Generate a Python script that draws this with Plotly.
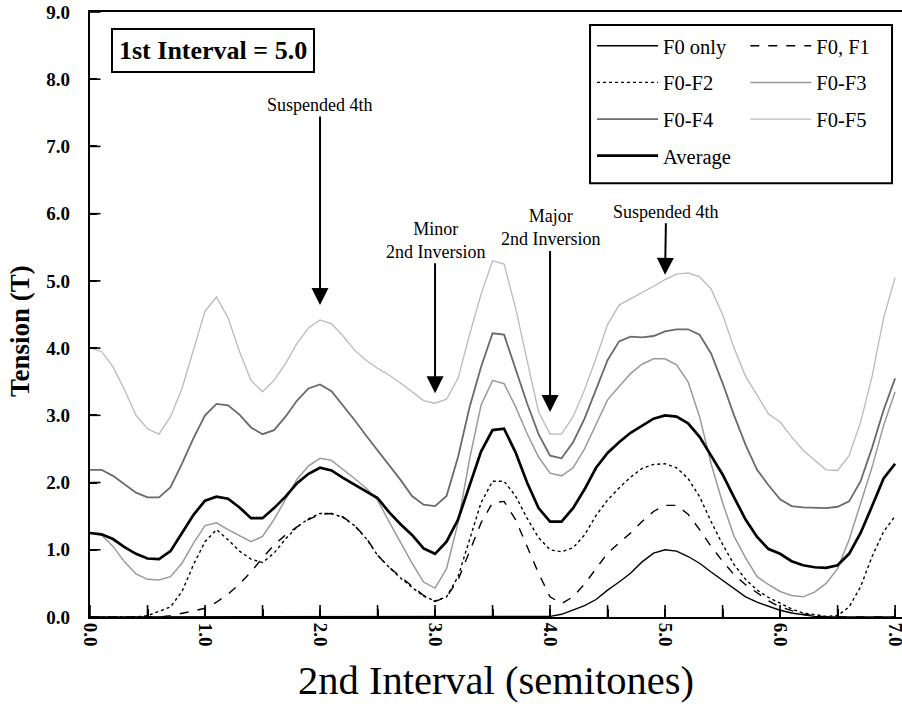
import plotly.graph_objects as go

# 2nd interval grid (semitones)
semitones = [round(i * 0.1, 1) for i in range(71)]

f0_only = [0, 0, 0, 0, 0, 0, 0, 0, 0, 0,
           0, 0, 0, 0, 0, 0, 0, 0, 0, 0,
           0, 0, 0, 0, 0, 0, 0, 0, 0, 0,
           0, 0, 0, 0, 0, 0, 0, 0, 0, 0,
           0.01, 0.04, 0.10, 0.17, 0.26, 0.40, 0.52, 0.65, 0.82, 0.95,
           1.00, 0.98, 0.90, 0.80, 0.67, 0.55, 0.42, 0.30, 0.22, 0.16,
           0.10, 0.06, 0.03, 0.01, 0, 0, 0, 0, 0, 0,
           0]

f0_f1 = [0, 0, 0, 0, 0, 0, 0, 0.02, 0.05, 0.09,
         0.13, 0.22, 0.34, 0.49, 0.67, 0.88, 1.07, 1.22, 1.34, 1.45,
         1.53, 1.54, 1.49, 1.36, 1.18, 0.92, 0.74, 0.60, 0.46, 0.32,
         0.23, 0.30, 0.55, 0.98, 1.40, 1.70, 1.72, 1.45, 1.05, 0.65,
         0.30, 0.20, 0.30, 0.49, 0.72, 0.95, 1.10, 1.25, 1.42, 1.57,
         1.66, 1.66, 1.53, 1.30, 1.05, 0.83, 0.63, 0.48, 0.36, 0.24,
         0.15, 0.09, 0.04, 0.02, 0, 0, 0, 0, 0, 0,
         0]

f0_f2 = [0, 0, 0, 0, 0, 0.02, 0.08, 0.15, 0.38, 0.78,
         1.12, 1.30, 1.15, 0.98, 0.86, 0.81, 0.95, 1.16, 1.34, 1.46,
         1.54, 1.54, 1.48, 1.36, 1.17, 0.92, 0.74, 0.58, 0.44, 0.31,
         0.24, 0.30, 0.60, 1.15, 1.70, 2.02, 2.02, 1.80, 1.47, 1.18,
         1.00, 0.97, 1.03, 1.22, 1.51, 1.74, 1.92, 2.08, 2.21, 2.27,
         2.28, 2.22, 2.06, 1.79, 1.42, 1.08, 0.78, 0.56, 0.40, 0.29,
         0.20, 0.12, 0.06, 0.03, 0.01, 0.02, 0.15, 0.45, 0.90, 1.27,
         1.50]

f0_f3 = [1.25, 1.22, 1.05, 0.82, 0.64, 0.56, 0.55, 0.60, 0.80, 1.10,
         1.36, 1.40, 1.30, 1.21, 1.12, 1.20, 1.45, 1.75, 2.05, 2.25,
         2.36, 2.33, 2.20, 2.06, 1.92, 1.74, 1.42, 1.10, 0.80, 0.52,
         0.43, 0.72, 1.40, 2.35, 3.15, 3.52, 3.47, 3.13, 2.73, 2.38,
         2.14, 2.10, 2.22, 2.50, 2.86, 3.23, 3.43, 3.62, 3.76, 3.84,
         3.84, 3.75, 3.50, 2.98, 2.28, 1.70, 1.20, 0.88, 0.60, 0.48,
         0.38, 0.32, 0.30, 0.37, 0.50, 0.72, 1.15, 1.68, 2.23, 2.85,
         3.35]

f0_f4 = [2.19, 2.19, 2.10, 1.97, 1.85, 1.78, 1.78, 1.93, 2.28, 2.66,
         3.00, 3.17, 3.15, 3.01, 2.82, 2.72, 2.78, 2.98, 3.22, 3.40,
         3.46, 3.36, 3.15, 2.93, 2.70, 2.48, 2.26, 2.04, 1.80, 1.67,
         1.65, 1.80, 2.38, 3.12, 3.72, 4.22, 4.20, 3.70, 3.18, 2.72,
         2.40, 2.36, 2.60, 2.95, 3.40, 3.82, 4.10, 4.17, 4.16, 4.18,
         4.25, 4.28, 4.28, 4.20, 3.92, 3.48, 3.00, 2.56, 2.19, 1.96,
         1.75, 1.65, 1.63, 1.62, 1.62, 1.64, 1.72, 2.02, 2.52, 3.08,
         3.55]

f0_f5 = [4.00, 3.95, 3.72, 3.38, 3.00, 2.80, 2.72, 2.98, 3.40, 3.98,
         4.55, 4.76, 4.45, 3.95, 3.52, 3.35, 3.52, 3.77, 4.07, 4.30,
         4.42, 4.36, 4.18, 3.97, 3.82, 3.70, 3.60, 3.48, 3.35, 3.22,
         3.18, 3.24, 3.55, 4.20, 4.80, 5.30, 5.25, 4.60, 3.82, 3.05,
         2.72, 2.72, 2.98, 3.38, 3.85, 4.35, 4.64, 4.73, 4.82, 4.92,
         5.02, 5.10, 5.12, 5.06, 4.88, 4.50, 4.00, 3.58, 3.30, 3.02,
         2.90, 2.68, 2.48, 2.33, 2.19, 2.18, 2.40, 2.90, 3.58, 4.45,
         5.05]

average = [1.25, 1.23, 1.16, 1.04, 0.94, 0.87, 0.86, 0.98, 1.25, 1.52,
           1.73, 1.79, 1.76, 1.63, 1.47, 1.47, 1.62, 1.79, 1.99, 2.13,
           2.22, 2.18, 2.07, 1.97, 1.86, 1.77, 1.56, 1.38, 1.22, 1.02,
           0.94, 1.12, 1.45, 1.95, 2.46, 2.78, 2.80, 2.45, 2.00, 1.62,
           1.42, 1.42, 1.62, 1.90, 2.22, 2.44, 2.60, 2.74, 2.85, 2.95,
           3.00, 2.98, 2.88, 2.68, 2.40, 2.12, 1.78, 1.45, 1.19, 1.01,
           0.94, 0.83, 0.77, 0.74, 0.73, 0.77, 0.94, 1.25, 1.65, 2.06,
           2.28]

y_ticks = [0, 1, 2, 3, 4, 5, 6, 7, 8, 9]
y_tick_labels = ["0.0", "1.0", "2.0", "3.0", "4.0", "5.0", "6.0", "7.0", "8.0", "9.0"]
x_ticks = [0, 1, 2, 3, 4, 5, 6, 7]
x_tick_labels = ["0.0", "1.0", "2.0", "3.0", "4.0", "5.0", "6.0", "7.0"]
x_minor_ticks = [0.5, 1.5, 2.5, 3.5, 4.5, 5.5, 6.5]

SERIF = "Liberation Serif, Times New Roman, serif"
NBSP = "\u00a0"
X_RANGE = [0, 7.06]
Y_RANGE = [0, 9]

series = [
    ("F0 only", f0_only, dict(color="black", width=1.4, dash="solid"), "legend"),
    ("F0, F1", f0_f1, dict(color="black", width=1.4, dash="dash"), "legend2"),
    ("F0-F2", f0_f2, dict(color="black", width=1.4, dash="dot"), "legend"),
    ("F0-F3", f0_f3, dict(color="#9a9a9a", width=1.5, dash="solid"), "legend2"),
    ("F0-F4", f0_f4, dict(color="#6a6a6a", width=1.8, dash="solid"), "legend"),
    ("F0-F5", f0_f5, dict(color="#bababa", width=1.3, dash="solid"), "legend2"),
    ("Average", average, dict(color="black", width=2.7, dash="solid"), "legend"),
]

fig = go.Figure()
for i, (name, vals, line, leg) in enumerate(series):
    fig.add_trace(go.Scatter(x=semitones, y=vals, mode="lines", name=name,
                             line=line, legend=leg, legendgroup=f"g{i}"))

# inside tick marks, placed at the axis tick values; clipped to the plot area so
# only the inner half of each mark shows
x_tick_pos = x_ticks + x_minor_ticks
fig.add_trace(go.Scatter(
    x=x_tick_pos, y=[Y_RANGE[0]] * len(x_tick_pos), mode="markers",
    marker=dict(symbol="line-ns", size=17, line=dict(color="black", width=1.6)),
    showlegend=False, hoverinfo="skip", cliponaxis=True))
fig.add_trace(go.Scatter(
    x=[X_RANGE[0]] * len(y_ticks), y=y_ticks, mode="markers",
    marker=dict(symbol="line-ew", size=15, line=dict(color="black", width=1.6)),
    showlegend=False, hoverinfo="skip", cliponaxis=True))

legend_common = dict(
    xanchor="left", yanchor="top", bgcolor="rgba(0,0,0,0)", borderwidth=0,
    font=dict(family=SERIF, size=20.5, color="black"), traceorder="grouped",
    tracegroupgap=7, itemwidth=61, orientation="v",
)

ann_font = dict(family=SERIF, size=18, color="black")
arrows = [
    (2.0, 4.64, "Suspended 4th", 0, -200),
    (3.0, 3.33, "Minor<br>2nd Inversion", 0, -153),
    (4.0, 3.05, "Major<br>2nd Inversion", 0, -184),
    (5.0, 5.09, "Suspended 4th", 1, -63),
]
annotations = []
for (ax_x, ax_y, txt, dx, dy) in arrows:
    annotations.append(dict(x=ax_x, y=ax_y, xref="x", yref="y", text=txt,
                            showarrow=True, ax=dx, ay=dy, arrowhead=2,
                            arrowsize=1.7, arrowwidth=2, arrowcolor="black",
                            font=ann_font, align="center"))
annotations.append(dict(x=0.152, y=0.937, xref="paper", yref="paper",
                        text="<b>1st Interval = 5.0</b>", showarrow=False,
                        font=dict(family=SERIF, size=26, color="black"),
                        bordercolor="black", borderwidth=2, borderpad=6,
                        bgcolor="white", xanchor="center", yanchor="middle"))
# y-axis title (placed as in the original, slightly below the plot centre)
annotations.append(dict(x=-0.0862, y=0.4727, xref="paper", yref="paper",
                        text="<b>Tension (T)</b>", showarrow=False, textangle=-90,
                        font=dict(family=SERIF, size=27, color="black"),
                        xanchor="center", yanchor="middle"))

fig.update_layout(
    template="none",
    width=902, height=710,
    margin=dict(l=90, r=0, t=12, b=93),
    paper_bgcolor="white", plot_bgcolor="white",
    font=dict(family=SERIF, color="black"),
    showlegend=True,
    legend=dict(x=0.6183, y=0.977, **legend_common),
    legend2=dict(x=0.807, y=0.977, **legend_common),
    annotations=annotations,
    shapes=[dict(type="rect", xref="paper", yref="paper",
                 x0=0.6158, x1=0.9877, y0=0.717, y1=0.9785,
                 line=dict(color="black", width=2), fillcolor="rgba(0,0,0,0)",
                 layer="above")],
    xaxis=dict(
        range=X_RANGE, showgrid=False, zeroline=False, layer="above traces",
        showline=True, linecolor="black", linewidth=2, mirror=True,
        tickmode="array", tickvals=x_ticks, ticktext=x_tick_labels, tickangle=90,
        ticks="inside", ticklen=8, tickwidth=1.6, tickcolor="#000000",
        minor=dict(tickmode="array", tickvals=x_minor_ticks, ticks="inside",
                   ticklen=8, tickwidth=1.6, tickcolor="#000000", showgrid=False),
        ticklabeloverflow="allow",
        tickfont=dict(family=SERIF, size=19, color="black", weight="bold"),
        title=dict(text="2nd Interval (semitones)",
                   font=dict(family=SERIF, size=40.5, color="black"), standoff=20),
    ),
    yaxis=dict(
        range=Y_RANGE, showgrid=False, zeroline=False, layer="above traces",
        showline=True, linecolor="black", linewidth=2,
        tickmode="array", tickvals=y_ticks, ticktext=[t + NBSP * 3 for t in y_tick_labels],
        ticks="inside", ticklen=7, tickwidth=1.6, tickcolor="#000000",
        tickfont=dict(family=SERIF, size=19, color="black", weight="bold"),
    ),
)

fig.write_html("out.html")
